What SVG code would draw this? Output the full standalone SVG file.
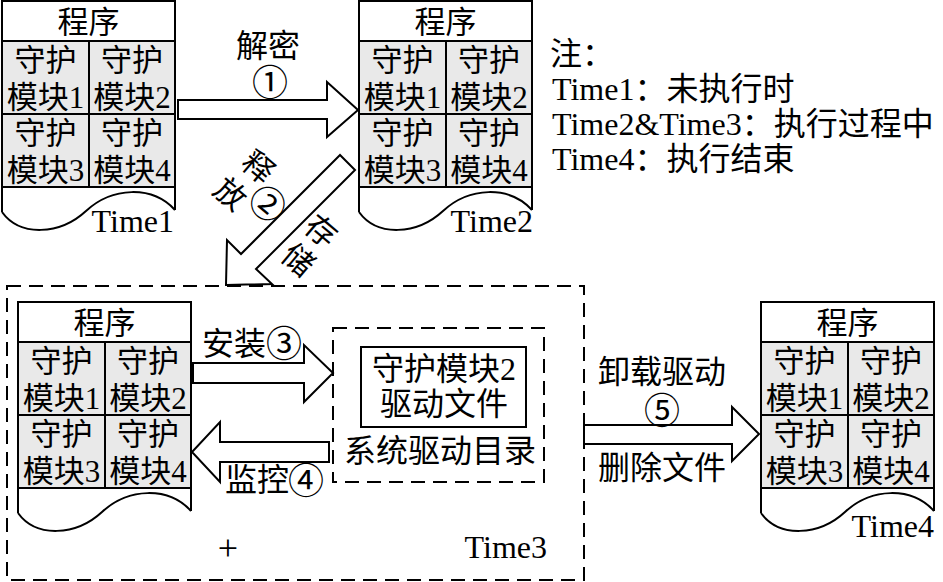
<svg xmlns="http://www.w3.org/2000/svg" width="943" height="582" viewBox="0 0 943 582">
<style>
.t{font-family:"Liberation Serif","Noto Sans CJK SC",serif;fill:#000;text-anchor:middle}
.c31{font-size:31px}
.c32{font-size:32px}
.cd{font-size:36px}
.lab{font-size:32px;text-anchor:end}
.note{font-size:32px;text-anchor:start}
.cell{fill:#e9e9e9;stroke:none}
.ln{fill:none;stroke:#000;stroke-width:2}
.arr{fill:#fff;stroke:#000;stroke-width:2;stroke-linejoin:miter}
.dash{fill:none;stroke:#000;stroke-width:2;stroke-dasharray:14 8}
.box{fill:#fff;stroke:#000;stroke-width:2}
</style>
<rect width="943" height="582" fill="#fff"/>

<g id="node-time1" transform="translate(2,1)">
<rect class="cell" x="0" y="40" width="173" height="146"/>
<path class="ln" d="M0,211 V0 H173 V209 M0,211 C18,236 58,234 84,210 S150,184 173,209 M0,40 H173 M0,113 H173 M0,186 H173 M87,40 V186"/>
<text class="t c31" x="86.5" y="32">程序</text>
<text class="t c31" x="43.5" y="70">守护</text>
<text class="t c31" x="43.5" y="106.5">模块1</text>
<text class="t c31" x="130" y="70">守护</text>
<text class="t c31" x="130" y="106.5">模块2</text>
<text class="t c31" x="43.5" y="143">守护</text>
<text class="t c31" x="43.5" y="179.5">模块3</text>
<text class="t c31" x="130" y="143">守护</text>
<text class="t c31" x="130" y="179.5">模块4</text>
<text class="t lab" x="172" y="231">Time1</text>
</g>

<g id="node-time2" transform="translate(359,1)">
<rect class="cell" x="0" y="40" width="173" height="146"/>
<path class="ln" d="M0,211 V0 H173 V209 M0,211 C18,236 58,234 84,210 S150,184 173,209 M0,40 H173 M0,113 H173 M0,186 H173 M87,40 V186"/>
<text class="t c31" x="86.5" y="32">程序</text>
<text class="t c31" x="43.5" y="70">守护</text>
<text class="t c31" x="43.5" y="106.5">模块1</text>
<text class="t c31" x="130" y="70">守护</text>
<text class="t c31" x="130" y="106.5">模块2</text>
<text class="t c31" x="43.5" y="143">守护</text>
<text class="t c31" x="43.5" y="179.5">模块3</text>
<text class="t c31" x="130" y="143">守护</text>
<text class="t c31" x="130" y="179.5">模块4</text>
<text class="t lab" x="174" y="231">Time2</text>
</g>

<g id="notes">
<text class="t note" x="550" y="65">注：</text>
<text class="t note" x="552" y="100">Time1：未执行时</text>
<text class="t note" x="552" y="135">Time2&amp;Time3：执行过程中</text>
<text class="t note" x="552" y="170">Time4：执行结束</text>
</g>

<g id="group-time3">
<rect class="dash" x="7" y="286" width="577" height="294"/>
<text class="t" x="228" y="560" style="font-size:36px">+</text>
<text class="t lab" x="547" y="558">Time3</text>
</g>

<g id="node-time3-program" transform="translate(18,302)">
<rect class="cell" x="0" y="40" width="173" height="146"/>
<path class="ln" d="M0,211 V0 H173 V209 M0,211 C18,236 58,234 84,210 S150,184 173,209 M0,40 H173 M0,113 H173 M0,186 H173 M87,40 V186"/>
<text class="t c31" x="86.5" y="32">程序</text>
<text class="t c31" x="43.5" y="70">守护</text>
<text class="t c31" x="43.5" y="106.5">模块1</text>
<text class="t c31" x="130" y="70">守护</text>
<text class="t c31" x="130" y="106.5">模块2</text>
<text class="t c31" x="43.5" y="143">守护</text>
<text class="t c31" x="43.5" y="179.5">模块3</text>
<text class="t c31" x="130" y="143">守护</text>
<text class="t c31" x="130" y="179.5">模块4</text>
</g>

<g id="node-driver-dir">
<rect class="dash" x="333" y="328" width="211" height="154"/>
<text class="t c32" x="440" y="462">系统驱动目录</text>
</g>

<g id="node-driver-file">
<rect class="box" x="361" y="347" width="165" height="80"/>
<text class="t c32" x="444" y="380">守护模块2</text>
<text class="t c32" x="444" y="415">驱动文件</text>
</g>

<g id="node-time4" transform="translate(761,302)">
<rect class="cell" x="0" y="40" width="173" height="146"/>
<path class="ln" d="M0,211 V0 H173 V209 M0,211 C18,236 58,234 84,210 S150,184 173,209 M0,40 H173 M0,113 H173 M0,186 H173 M87,40 V186"/>
<text class="t c31" x="86.5" y="32">程序</text>
<text class="t c31" x="43.5" y="70">守护</text>
<text class="t c31" x="43.5" y="106.5">模块1</text>
<text class="t c31" x="130" y="70">守护</text>
<text class="t c31" x="130" y="106.5">模块2</text>
<text class="t c31" x="43.5" y="143">守护</text>
<text class="t c31" x="43.5" y="179.5">模块3</text>
<text class="t c31" x="130" y="143">守护</text>
<text class="t c31" x="130" y="179.5">模块4</text>
<text class="t lab" x="173" y="235">Time4</text>
</g>

<g id="connectors">
<polygon class="arr" points="178,100 327,100 327,82 358,110 327,137 327,119 178,119"/>
<text class="t c32" x="268" y="57">解密</text>
<text class="t cd" x="270" y="96">①</text>

<polygon class="arr" points="340,155 241,254 227,240 226,285 272,284 256,269 355,170"/>
<text class="t c31" transform="translate(251,175.5) rotate(40)">释</text>
<text class="t c31" transform="translate(223,202.5) rotate(40)">放</text>
<text class="t cd" transform="translate(259,214) rotate(40)">②</text>
<text class="t c31" transform="translate(314,239.5) rotate(40)">存</text>
<text class="t c31" transform="translate(291,268.5) rotate(40)">储</text>

<polygon class="arr" points="193,363 304,363 304,345 333,373 304,402 304,383 193,383"/>
<text class="t c32" x="234" y="355">安装</text>
<text class="t cd" x="284" y="357">③</text>

<polygon class="arr" points="329,442 220,442 220,422 192,452 220,482 220,462 329,462"/>
<text class="t c32" x="257" y="491">监控</text>
<text class="t cd" x="306" y="494">④</text>

<polygon class="arr" points="584,425 732,425 732,407 759,434 732,461 732,444 584,444"/>
<text class="t c32" x="662" y="383">卸载驱动</text>
<text class="t cd" x="662" y="424">⑤</text>
<text class="t c32" x="662" y="479">删除文件</text>
</g>
</svg>
